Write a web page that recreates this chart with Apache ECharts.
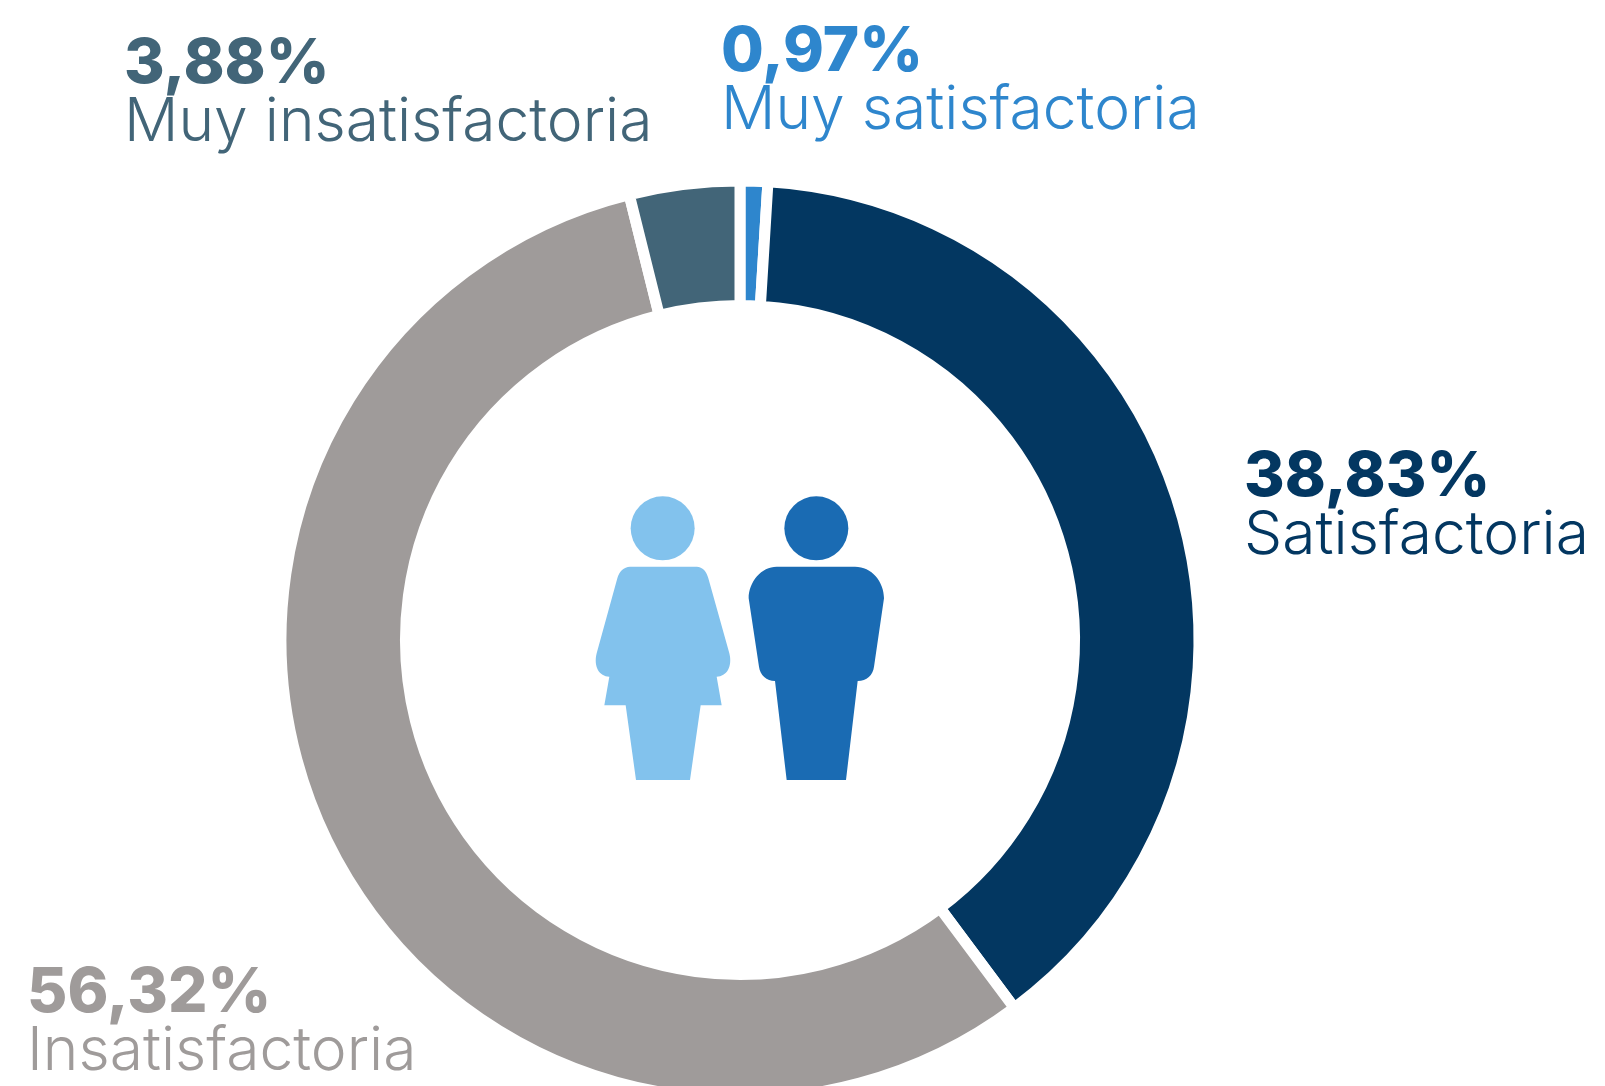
<!DOCTYPE html>
<html><head><meta charset="utf-8">
<style>html,body{margin:0;padding:0;background:#fff;overflow:hidden}#c{width:1605px;height:1086px}</style>
<script src="https://cdn.jsdelivr.net/npm/echarts@6/dist/echarts.min.js"></script>
</head><body><div id="c"></div>
<script>
const categories = ['Muy satisfactoria','Satisfactoria','Insatisfactoria','Muy insatisfactoria'];
const values = [0.97,38.83,56.32,3.88];
const colors = ['#2E86CD','#033761','#9F9B9A','#426578'];
const labelX = [721,1244,27,124];
const labelY = [23,448,964,35];
const FONT = 'Inter';
const womanPath = 'M210 290L410 290C428 290 440 305 445 325L508 550C518 590 500 620 470 620L485 706L422 706L390 930L228 930L197 706L133 706L148 620C118 620 100 590 110 550L172 325C177 305 192 290 210 290Z';
const manPath = 'M650 290L885 290C935 290 972 335 972 385L942 590C939 615 920 633 893 633L858 930L680 930L645 633C620 633 600 615 597 590L566 385C566 335 605 290 650 290Z';
echarts.graphic.registerShape('womanBody', echarts.graphic.extendPath(womanPath, {}));
echarts.graphic.registerShape('manBody', echarts.graphic.extendPath(manPath, {}));
const zx = v => 560 + v / 3, zy = v => 470 + v / 3;
const chart = echarts.init(document.getElementById('c'), null, {renderer:'canvas'});
chart.setOption({
  animation:false,
  backgroundColor:'#fff',
  series:[{
    type:'pie',
    center:[740,640],
    radius:[334.5,459],
    startAngle:90,
    clockwise:true,
    silent:true,
    itemStyle:{borderColor:'#fff',borderWidth:11},
    labelLine:{show:false},
    label:{
      show:true,position:'outside',fontFamily:FONT,width:700,overflow:'none',
      formatter:p=>`{v|${p.value.toFixed(2).replace('.',',')}%}\n{n|${p.name}}`,
      rich:{
        v:{fontFamily:FONT,fontWeight:800,fontSize:62,lineHeight:58},
        n:{fontFamily:FONT,fontWeight:300,fontSize:60.5,lineHeight:60}
      }
    },
    labelLayout:p=>({x:labelX[p.dataIndex],y:labelY[p.dataIndex],align:'left',verticalAlign:'top',hideOverlap:false}),
    data:categories.map((n,i)=>({name:n,value:values[i],itemStyle:{color:colors[i]},label:{color:colors[i]}}))
  }],
  graphic:[
    {type:'circle',shape:{cx:zx(308),cy:zy(175),r:32},style:{fill:'#82C2ED'}},
    {type:'circle',shape:{cx:zx(769),cy:zy(175),r:32},style:{fill:'#1A6BB3'}},
    {type:'womanBody',x:560,y:470,scaleX:1/3,scaleY:1/3,style:{fill:'#82C2ED'}},
    {type:'manBody',x:560,y:470,scaleX:1/3,scaleY:1/3,style:{fill:'#1A6BB3'}}
  ]
});
</script></body></html>
